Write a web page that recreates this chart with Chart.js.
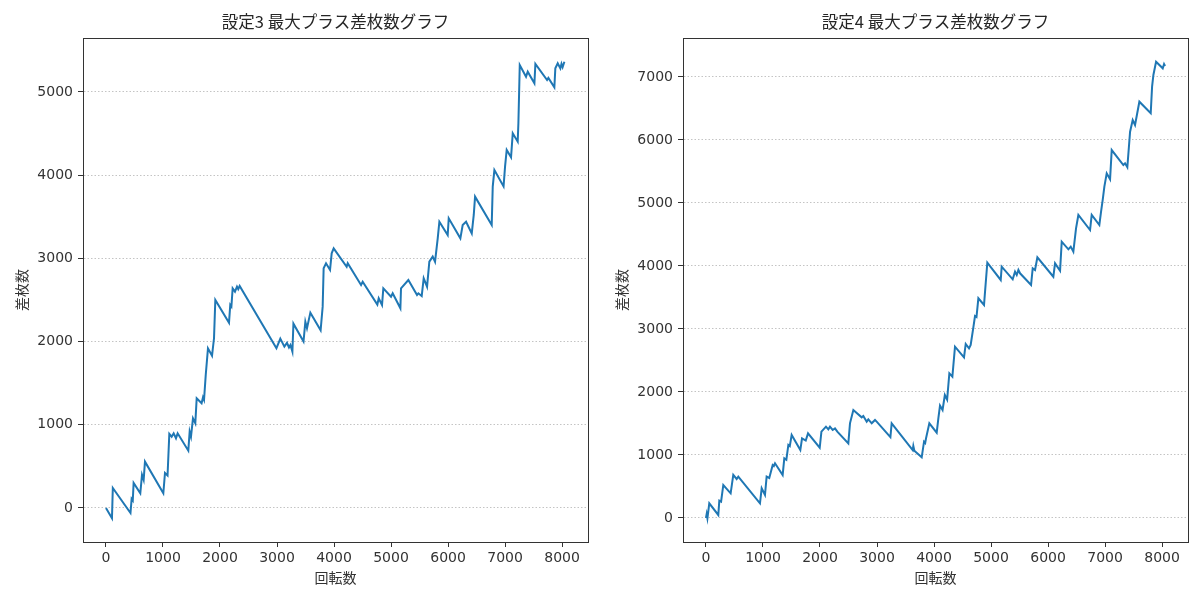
<!DOCTYPE html>
<html lang="ja">
<head>
<meta charset="utf-8">
<title>最大プラス差枚数グラフ</title>
<script src="https://cdn.jsdelivr.net/npm/chart.js@4.4.1/dist/chart.umd.min.js"></script>
<style>
    html, body { margin: 0; padding: 0; background: #fff; }
    .wrap { position: relative; width: 1200px; height: 600px; }
    .panel { position: absolute; top: 0; width: 600px; height: 600px; }
    #left { left: 0; }
    #right { left: 600px; }
</style>
</head>
<body>
<div class="wrap">
    <div class="panel" id="left"><canvas id="chart3" width="600" height="600"></canvas></div>
    <div class="panel" id="right"><canvas id="chart4" width="600" height="600"></canvas></div>
</div>
<script>
// 設定3 - 回転数 / 差枚数
const spins3 = [0, 105, 120, 430, 450, 470, 485, 602, 632, 661, 684, 1006, 1035, 1080, 1111,
    1152, 1187, 1228, 1257, 1444, 1468, 1491, 1526, 1567, 1591, 1677, 1702, 1720, 1750, 1789,
    1860, 1895, 1918, 2158, 2180, 2200, 2222, 2263, 2298, 2320, 2345, 2990, 3058, 3129, 3175,
    3210, 3235, 3270, 3288, 3465, 3497, 3526, 3585, 3765, 3801, 3818, 3860, 3930, 3959, 3994,
    4222, 4240, 4474, 4503, 4760, 4784, 4842, 4865, 5000, 5029, 5164, 5175, 5304, 5456, 5480,
    5538, 5573, 5632, 5672, 5731, 5772, 5819, 5848, 5994, 6012, 6216, 6257, 6316, 6416, 6451,
    6474, 6766, 6784, 6813, 6974, 7000, 7029, 7105, 7135, 7222, 7234, 7258, 7368, 7398, 7515,
    7532, 7737, 7760, 7865, 7882, 7924, 7970, 7990, 8010, 8041];
const coins3 = [0, -124, 240, -60, 110, 90, 300, 176, 397, 337, 557, 176, 420, 390, 890,
    857, 897, 838, 897, 689, 917, 857, 1078, 1018, 1318, 1258, 1330, 1300, 1600, 1919,
    1830, 2040, 2500, 2225, 2440, 2420, 2640, 2600, 2660, 2630, 2668, 1920, 2035, 1939, 1985,
    1930, 1960, 1880, 2215, 2000, 2240, 2160, 2348, 2135, 2420, 2881, 2941, 2861, 3061, 3121,
    2900, 2941, 2680, 2720, 2445, 2520, 2440, 2640, 2540, 2580, 2400, 2640, 2740, 2560, 2580,
    2548, 2761, 2660, 2960, 3021, 2960, 3241, 3441, 3281, 3482, 3241, 3401, 3441, 3301, 3522,
    3742, 3401, 3862, 4062, 3865, 4102, 4303, 4215, 4503, 4403, 4624, 5324, 5184, 5244, 5104,
    5337, 5144, 5170, 5056, 5284, 5345, 5284, 5340, 5300, 5364];

// 設定4 - 回転数 / 差枚数
const spins4 = [0, 12, 25, 58, 216, 234, 265, 304, 433, 479, 538, 567, 947, 977, 1035,
    1064, 1110, 1170, 1190, 1211, 1345, 1374, 1410, 1445, 1470, 1503, 1655, 1685, 1750, 1790,
    1995, 2025, 2105, 2146, 2175, 2222, 2263, 2304, 2497, 2526, 2585, 2731, 2760, 2819, 2848,
    2907, 2965, 2994, 3235, 3257, 3626, 3637, 3655, 3784, 3825, 3845, 3860, 3918, 4047, 4076,
    4105, 4150, 4190, 4230, 4269, 4322, 4368, 4526, 4556, 4614, 4643, 4690, 4719, 4745, 4778,
    4877, 4895, 4935, 5170, 5187, 5380, 5421, 5451, 5480, 5509, 5702, 5731, 5772, 5813, 6093,
    6123, 6211, 6240, 6357, 6398, 6444, 6491, 6532, 6737, 6766, 6900, 6930, 6959, 6988, 7029,
    7088, 7117, 7321, 7351, 7391, 7439, 7485, 7526, 7602, 7801, 7825, 7848, 7895, 8012, 8035,
    8053];
const coins4 = [0, 60, -5, 233, 48, 275, 260, 524, 392, 683, 619, 656, 233, 471, 365,
    656, 635, 841, 825, 868, 683, 947, 925, 1159, 1140, 1317, 1079, 1265, 1230, 1344,
    1115, 1370, 1450, 1408, 1450, 1397, 1423, 1370, 1185, 1503, 1714, 1598, 1619, 1529, 1566,
    1503, 1556, 1529, 1285, 1503, 1079, 1143, 1068, 963, 1211, 1190, 1265, 1503, 1354, 1582,
    1784, 1714, 1952, 1880, 2297, 2243, 2719, 2550, 2762, 2693, 2746, 3027, 3206, 3190, 3487,
    3381, 3592, 4052, 3778, 3989, 3788, 3910, 3857, 3937, 3884, 3698, 3963, 3937, 4138, 3830,
    4042, 3925, 4386, 4265, 4307, 4227, 4598, 4810, 4571, 4810, 4651, 4862, 5048, 5259, 5471,
    5376, 5841, 5603, 5630, 5567, 6132, 6317, 6238, 6608, 6424, 6846, 7032, 7243, 7138, 7206,
    7175];

// 目盛り
const xTicks = [0, 1000, 2000, 3000, 4000, 5000, 6000, 7000, 8000];
const yTicks3 = [0, 1000, 2000, 3000, 4000, 5000];
const yTicks4 = [0, 1000, 2000, 3000, 4000, 5000, 6000, 7000];

Chart.defaults.font.family = '"DejaVu Sans", "Noto Sans CJK JP", sans-serif';
Chart.defaults.color = '#333';

// 枠線 (上下左右) とグラフ領域の中央に置くタイトル
const frameBox = {
    id: 'frameBox',
    afterDraw(chart, args, opts) {
        const a = chart.chartArea;
        const ctx = chart.ctx;
        ctx.save();
        ctx.strokeStyle = '#333';
        ctx.lineWidth = 1;
        ctx.strokeRect(Math.round(a.left) + 0.5, Math.round(a.top) + 0.5,
            Math.round(a.right - a.left), Math.round(a.bottom - a.top));

        ctx.fillStyle = '#262626';
        ctx.font = '16.5px "Noto Sans CJK JP", "DejaVu Sans", sans-serif';
        ctx.textAlign = 'center';
        ctx.textBaseline = 'middle';
        ctx.fillText(opts.text, (a.left + a.right) / 2, 22);
        ctx.restore();
    }
};

function makeChart(id, title, spins, coins, yTicks, yMin, yMax) {
    const points = spins.map((s, i) => ({ x: s, y: coins[i] }));
    const fixTicks = list => scale => { scale.ticks = list.map(v => ({ value: v })); };

    return new Chart(document.getElementById(id), {
        type: 'line',
        data: {
            datasets: [{
                data: points,
                borderColor: '#1f77b4',
                borderWidth: 2,
                pointRadius: 0,
                tension: 0,
                fill: false
            }]
        },
        options: {
            responsive: false,
            animation: false,
            layout: { padding: { left: 0, right: 12, top: 38, bottom: 0 } },
            plugins: {
                legend: { display: false },
                tooltip: { enabled: false },
                title: { display: false },
                frameBox: { text: title }
            },
            scales: {
                x: {
                    type: 'linear',
                    min: -403,
                    max: 8455,
                    afterBuildTicks: fixTicks(xTicks),
                    afterFit: scale => { scale.height = 58; },
                    grid: { drawOnChartArea: false, tickLength: 5, tickColor: '#333' },
                    border: { color: '#333' },
                    ticks: { font: { size: 14 }, padding: 3, maxRotation: 0, autoSkip: false, callback: v => String(v) },
                    title: {
                        display: true,
                        text: '回転数',
                        font: { size: 14, family: '"Noto Sans CJK JP", sans-serif' },
                        padding: { top: 2, bottom: 13.6 }
                    }
                },
                y: {
                    type: 'linear',
                    min: yMin,
                    max: yMax,
                    afterBuildTicks: fixTicks(yTicks),
                    afterFit: scale => { scale.width = 83; },
                    grid: { color: '#c4c4c4', lineWidth: 1, tickLength: 5, tickColor: '#333' },
                    border: { color: '#333', dash: [1.5, 2] },
                    ticks: { font: { size: 14 }, padding: 5, autoSkip: false, callback: v => String(v) },
                    title: {
                        display: true,
                        text: '差枚数',
                        font: { size: 14, family: '"Noto Sans CJK JP", sans-serif' },
                        padding: { top: 13.6, bottom: 0 }
                    }
                }
            }
        },
        plugins: [frameBox]
    });
}

makeChart('chart3', '設定3 最大プラス差枚数グラフ', spins3, coins3, yTicks3, -409, 5649);
makeChart('chart4', '設定4 最大プラス差枚数グラフ', spins4, coins4, yTicks4, -381, 7619);
</script>
</body>
</html>
